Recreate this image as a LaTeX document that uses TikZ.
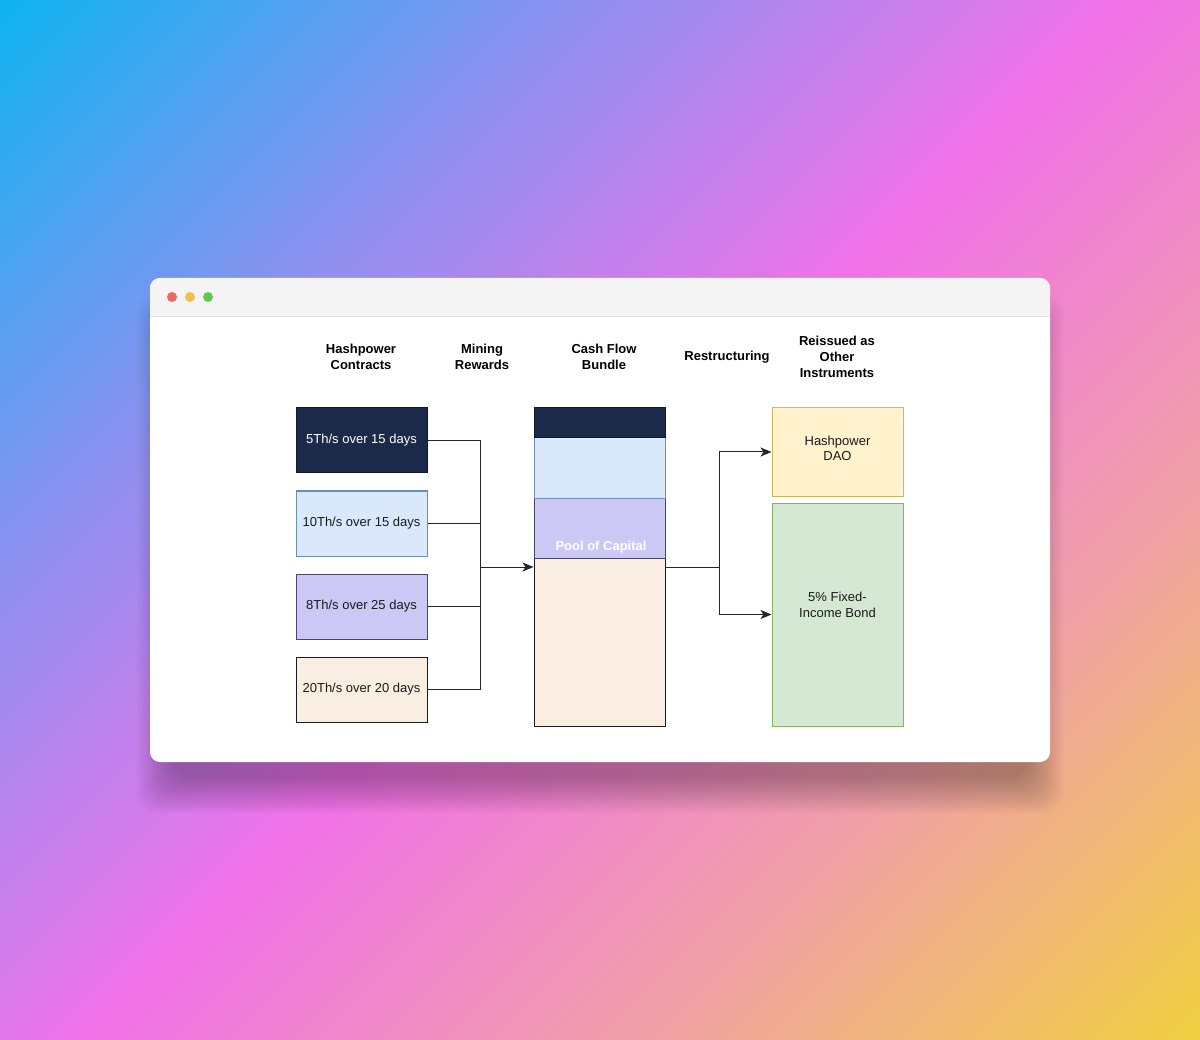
\documentclass[tikz,border=0pt]{standalone}
\usepackage{fontspec}
\setmainfont{Liberation Sans}
\usetikzlibrary{arrows.meta}
\definecolor{bgA}{HTML}{10B4F0}
\definecolor{bgB}{HTML}{8A92F0}
\definecolor{bgC}{HTML}{F072E8}
\definecolor{bgD}{HTML}{F0A0A8}
\definecolor{bgE}{HTML}{F0D040}
\definecolor{titlegray}{HTML}{F4F4F4}
\definecolor{sepgray}{HTML}{E2E2E2}
\definecolor{navy}{HTML}{1C2A4A}
\definecolor{navyd}{HTML}{10182E}
\definecolor{lblue}{HTML}{DAE8FC}
\definecolor{lblued}{HTML}{6C8EBF}
\definecolor{lav}{HTML}{CBC8F6}
\definecolor{lavd}{HTML}{4A4766}
\definecolor{beige}{HTML}{FAEEE3}
\definecolor{beiged}{HTML}{1A1A1A}
\definecolor{yel}{HTML}{FFF2CC}
\definecolor{yeld}{HTML}{D6B656}
\definecolor{grn}{HTML}{D5E8D4}
\definecolor{grnd}{HTML}{82B366}
\definecolor{dotr}{HTML}{EE6A5F}
\definecolor{doty}{HTML}{F5BE4F}
\definecolor{dotg}{HTML}{62C655}
\definecolor{txt}{HTML}{1A1A1A}
\definecolor{linec}{HTML}{262626}
\pgfdeclarehorizontalshading{bgshade}{100bp}{color(0bp)=(bgA); color(14.6bp)=(bgA); color(32.3bp)=(bgB); color(50bp)=(bgC); color(67.7bp)=(bgD); color(85.4bp)=(bgE); color(100bp)=(bgE)}
\tikzset{
  box/.style={draw, line width=1pt, minimum width=131pt, inner sep=0pt, font=\fontsize{13}{16}\selectfont, text=txt, align=center},
  hdr/.style={font=\fontsize{13}{15.8}\selectfont\bfseries, align=center, inner sep=0pt},
  lbl/.style={font=\fontsize{13}{15.5}\selectfont, text=txt, align=center, inner sep=0pt},
  conn/.style={line width=1pt, draw=linec},
  arr/.style={conn, -{Stealth[length=11pt,width=9pt,inset=3pt]}}
}
\begin{document}
\begin{tikzpicture}[x=1pt,y=-1pt]
\useasboundingbox (0,0) rectangle (1200,1040);
\shade[shading=bgshade, shading angle=-45] (0,0) rectangle (1200,1040);
% soft shadow
\foreach \i in {0,...,14} {
  \fill[black, opacity=0.02, rounded corners=20pt] (172-\i*2.5, 330-\i*2.5) rectangle (1028+\i*2.5, 778+\i*2.5);
}
% window
\fill[white, rounded corners=10pt] (150,278) rectangle (1050,762);
\begin{scope}
  \clip[rounded corners=10pt] (150,278) rectangle (1050,762);
  \fill[titlegray] (150,278) rectangle (1050,316);
  \draw[sepgray, line width=0.8pt] (150,316) -- (1050,316);
\end{scope}
\fill[dotr] (172,297) circle (5pt);
\fill[doty] (190,297) circle (5pt);
\fill[dotg] (208,297) circle (5pt);

% headers
\node[hdr] (h1) at (361,357) {Hashpower\\Contracts};
\node[hdr] (h2) at (482,357) {Mining\\Rewards};
\node[hdr] (h3) at (604,357) {Cash Flow\\Bundle};
\node[hdr] (h4) at (727,357) {Restructuring};
\node[hdr] (h5) at (837,357) {Reissued as\\Other\\Instruments};

% left contracts
\node[box, fill=navy, draw=navyd, text=white, minimum height=65pt] (c1) at (361.5,440.5) {5Th/s over 15 days};
\node[box, fill=lblue, draw=lblued, minimum height=65pt] (c2) at (361.5,523.5) {10Th/s over 15 days};
\node[box, fill=lav, draw=lavd, minimum height=65pt] (c3) at (361.5,606.5) {8Th/s over 25 days};
\node[box, fill=beige, draw=beiged, minimum height=65pt] (c4) at (361.5,689.5) {20Th/s over 20 days};

% center bundle
\node[box, fill=beige, draw=beiged, minimum height=168pt] (s4) at (599.5,642) {};
\node[box, fill=lav, draw=lavd, minimum height=60pt] (s3) at (599.5,528) {};
\node[box, fill=lblue, draw=lblued, minimum height=60pt] (s2) at (599.5,468) {};
\node[box, fill=navy, draw=navyd, minimum height=30pt] (s1) at (599.5,423) {};
\node[font=\fontsize{13}{16}\selectfont\bfseries, text=white, inner sep=0pt] (pool) at (601,547) {Pool of Capital};

% right boxes
\node[box, fill=yel, draw=yeld, minimum height=88pt] (r1) at (837.5,452) {};
\node[box, fill=grn, draw=grnd, minimum height=223pt] (r2) at (837.5,614.5) {};
\node[lbl] (r1t) at (837.5,448.5) {Hashpower\\DAO};
\node[lbl] (r2t) at (837.5,605) {5\% Fixed-\\Income Bond};

% connectors
\coordinate (jL) at (480,567);
\coordinate (jR) at (719,567);
\draw[conn] (c1.east) -| (jL);
\draw[conn] (c2.east) -| (jL);
\draw[conn] (c3.east) -| (jL);
\draw[conn] (c4.east) -| (jL);
\draw[arr] (jL) -- (s4.west |- jL);
\draw[conn] (s4.east |- jR) -- (jR);
\draw[arr] (jR) |- (r1.west);
\draw[arr] (jR) |- (r2.west);
\end{tikzpicture}
\end{document}
